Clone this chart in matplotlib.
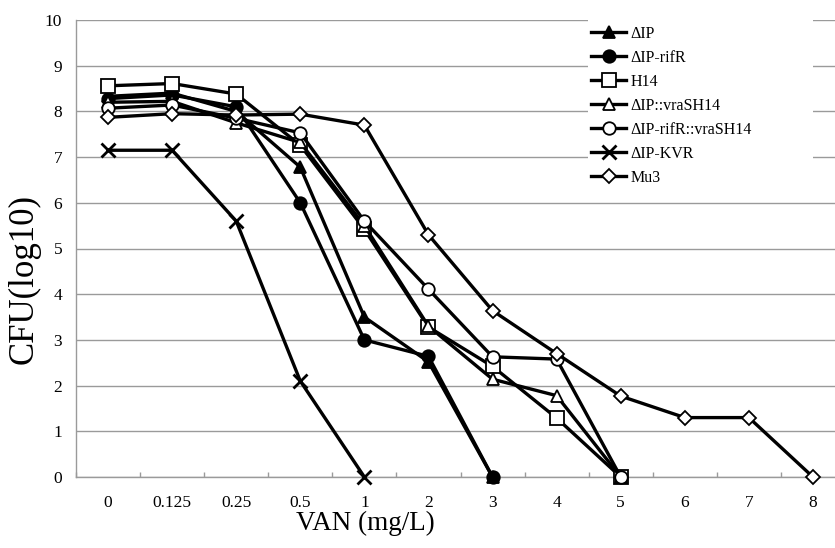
import numpy as np
import matplotlib
matplotlib.use("Agg")
import matplotlib.pyplot as plt
from matplotlib.patches import Rectangle

plt.rcParams['font.family'] = ['Liberation Serif', 'DejaVu Serif']

categories = ["0", "0.125", "0.25", "0.5", "1", "2", "3", "4", "5", "6", "7", "8"]
nan = np.nan
dIP = [8.33, 8.40, 8.00, 6.78, 3.50, 2.52, 0.0, nan, nan, nan, nan, nan]
dIP_rifR = [8.28, 8.36, 8.10, 6.00, 3.00, 2.64, 0.0, nan, nan, nan, nan, nan]
H14 = [8.56, 8.61, 8.38, 7.26, 5.42, 3.28, 2.42, 1.29, 0.0, nan, nan, nan]
dIP_vraSH14 = [8.20, 8.22, 7.75, 7.32, 5.50, 3.30, 2.14, 1.78, 0.0, nan, nan, nan]
dIP_rifR_vraSH14 = [8.07, 8.14, 7.85, 7.53, 5.60, 4.11, 2.63, 2.58, 0.0, nan, nan, nan]
dIP_KVR = [7.15, 7.15, 5.60, 2.10, 0.0, nan, nan, nan, nan, nan, nan, nan]
Mu3 = [7.87, 7.95, 7.92, 7.94, 7.70, 5.30, 3.64, 2.70, 1.77, 1.30, 1.30, 0.0]

series = [
    ("ΔIP", dIP, dict(marker='^', mfc='black', ms=9)),
    ("ΔIP-rifR", dIP_rifR, dict(marker='o', mfc='black', ms=9)),
    ("H14", H14, dict(marker='s', mfc='white', ms=10)),
    ("ΔIP::vraSH14", dIP_vraSH14, dict(marker='^', mfc='white', ms=9)),
    ("ΔIP-rifR::vraSH14", dIP_rifR_vraSH14, dict(marker='o', mfc='white', ms=9)),
    ("ΔIP-KVR", dIP_KVR, dict(marker='x', mfc='black', ms=10, mew=2.0)),
    ("Mu3", Mu3, dict(marker='D', mfc='white', ms=7.5)),
]

fig = plt.figure(figsize=(8.35, 5.48), dpi=100)
W, H = 835, 548
left, right, top, bottom = 76, 845, 20, 477
ax = fig.add_axes([left / W, 1 - bottom / H, (right - left) / W, (bottom - top) / H])

x = np.arange(len(categories))
grid_c = '#9a9a9a'
for i, (name, vals, st) in enumerate(series):
    kw = dict(color='black', lw=2.4, mec='black', mew=1.3, zorder=3 + i)
    kw.update(st)
    ax.plot(x, vals, label=name, clip_on=False, **kw)

ax.set_xlim(-0.5, len(categories) - 0.5)
ax.set_ylim(0, 10)
ax.set_yticks(range(0, 11))
ax.set_xticks(x)
ax.set_xticklabels(categories)
ax.set_xticks(np.arange(-0.5, len(categories), 1.0), minor=True)
ax.yaxis.grid(True, color=grid_c, lw=1.0, zorder=0)
ax.set_axisbelow(True)
for s in ['top', 'right']:
    ax.spines[s].set_visible(False)
for s in ['left', 'bottom']:
    ax.spines[s].set_color(grid_c)
    ax.spines[s].set_linewidth(1.0)
ax.tick_params(axis='y', length=0, pad=10, labelsize=12.5)
ax.tick_params(axis='x', which='major', length=0, pad=13, labelsize=12.5)
ax.tick_params(axis='x', which='minor', direction='in', length=3.5, color=grid_c, width=1.0)

ax.set_xlabel("VAN (mg/L)", fontsize=19.5, va='center')
ax.xaxis.set_label_coords((365 - left) / (right - left), (bottom - 523) / (bottom - top))
ax.set_ylabel("CFU(log10)", fontsize=25, va='center')
ax.yaxis.set_label_coords((24 - left) / (right - left), (bottom - 279) / (bottom - top))

# legend background (covers gridlines like the original)
rect = Rectangle((588 / W, 1 - 192 / H), (813 - 588) / W, (192 - 8) / H,
                 transform=fig.transFigure, facecolor='white', edgecolor='none', zorder=1)
ax.add_patch(rect)
rect.set_transform(fig.transFigure)

leg = ax.legend(loc='upper left', bbox_to_anchor=(591 / W, 1 - 26 / H),
                bbox_transform=fig.transFigure, frameon=False, fontsize=11.5,
                handlelength=2.2, handletextpad=0.25, borderpad=0, borderaxespad=0,
                labelspacing=0.5)
leg.set_zorder(20)

fig.savefig("out.png", dpi=100)
